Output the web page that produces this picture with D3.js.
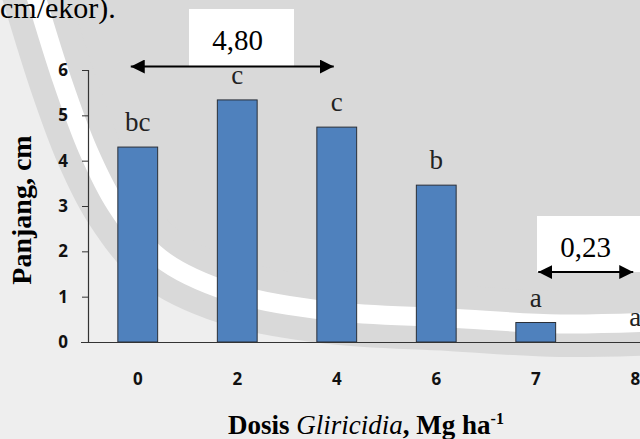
<!DOCTYPE html>
<html>
<head>
<meta charset="utf-8">
<script src="https://cdn.jsdelivr.net/npm/d3@7"></script>
<style>
  html, body { margin: 0; padding: 0; background: #eeeeee; }
  svg { display: block; }
</style>
</head>
<body>
<svg id="chart" width="640" height="439"></svg>
<script>
// Leaf length by Gliricidia dose
const doses = ["0", "2", "4", "6", "7", "8"];
const lengths = [4.30, 5.34, 4.74, 3.46, 0.43, 0.00];
const groupLetters = ["bc", "c", "c", "b", "a", "a"];
const yTicks = [0, 1, 2, 3, 4, 5, 6];
const rangeNotes = [
  { from: "0", to: "4", text: "4,80" },
  { from: "7", to: "8", text: "0,23" }
];
// centre line of the faint seal ring behind the plot
const sealRing = [[34, -10], [62, 80], [88, 150], [116, 205], [160, 258], [230, 292],
                  [330, 311], [450, 318], [560, 324], [680, 321]];

const svg = d3.select("#chart");
const W = 640, H = 439;
const plotLeft = 88, plotBottom = 342, plotTop = 70;

const serif = "Liberation Serif, Times New Roman, serif";
const sans = "Open Sans, Lato, sans-serif";

// ---- background seal ----
const bg = svg.append("g");
bg.append("rect").attr("width", W).attr("height", H).attr("fill", "#eeeeee");
const ringLine = d3.line().curve(d3.curveCatmullRom);
const ringPath = ringLine(sealRing);
bg.append("path")
  .attr("d", ringPath + `L${W + 60},-40L-40,-40Z`)
  .attr("fill", "#d9d9d9");
bg.append("path").attr("d", ringPath)
  .attr("fill", "none").attr("stroke", "#d9d9d9").attr("stroke-width", 66);
bg.append("path").attr("d", ringPath)
  .attr("fill", "none").attr("stroke", "#ffffff").attr("stroke-width", 19);

// ---- scales ----
const x = d3.scaleBand().domain(doses).range([plotLeft, plotLeft + 6 * 99.5])
  .paddingInner(0.6).paddingOuter(0.3);
const y = d3.scaleLinear().domain([0, 6]).range([plotBottom, plotTop]);
const cx = d => x(d) + x.bandwidth() / 2;

// ---- bars ----
svg.append("g").selectAll("rect")
  .data(doses)
  .join("rect")
  .attr("x", d => x(d))
  .attr("y", (d, i) => y(lengths[i]))
  .attr("width", x.bandwidth())
  .attr("height", (d, i) => plotBottom - y(lengths[i]))
  .attr("fill", "#4f81bd")
  .attr("stroke", "#2a2f38")
  .attr("stroke-width", 1);

// ---- axes ----
const yAxis = svg.append("g")
  .attr("transform", `translate(${plotLeft},0)`)
  .call(d3.axisLeft(y).tickValues(yTicks).tickSize(6).tickPadding(14).tickFormat(d3.format("d")));
const xAxis = svg.append("g")
  .attr("transform", `translate(0,${plotBottom})`)
  .call(d3.axisBottom(x).tickSize(0).tickPadding(31));
xAxis.select(".domain").attr("d", `M${plotLeft - 7},0.5H${W + 10}`);
[yAxis, xAxis].forEach(g => {
  g.attr("font-family", sans).attr("font-size", 17).attr("font-weight", 700);
  g.select(".domain").attr("stroke", "#333").attr("stroke-width", 1.2);
  g.selectAll(".tick line").attr("stroke", "#333");
  g.selectAll("text")
    .attr("fill", "#111")
    .style("font-family", sans)
    .style("font-weight", "700")
    .style("font-size", "17px");
});

// ---- significance letters ----
svg.append("g").selectAll("text")
  .data(doses)
  .join("text")
  .attr("x", d => cx(d))
  .attr("y", (d, i) => y(lengths[i]) - 16)
  .attr("text-anchor", "middle")
  .attr("font-family", serif)
  .attr("font-size", 27)
  .attr("fill", "#222")
  .text((d, i) => groupLetters[i]);

// ---- range notes with double arrows ----
const defs = svg.append("defs");
defs.append("marker")
  .attr("id", "head")
  .attr("viewBox", "0 0 14 14")
  .attr("refX", 14).attr("refY", 7)
  .attr("markerWidth", 14).attr("markerHeight", 14)
  .attr("markerUnits", "userSpaceOnUse")
  .attr("orient", "auto-start-reverse")
  .append("path").attr("d", "M0,0L14,7L0,14Z").attr("fill", "#000");

const noteLayout = [
  { x1: cx("0") - 7, x2: cx("4") - 3, ay: 66.5, box: [189, 9, 105, 58], tx: 237.5, ty: 50 },
  { x1: cx("7") + 2.5, x2: cx("8") - 2, ay: 272, box: [537, 216, 110, 56], tx: 585.5, ty: 257 }
];
rangeNotes.forEach((n, i) => {
  const L = noteLayout[i];
  const g = svg.append("g");
  g.append("rect")
    .attr("x", L.box[0]).attr("y", L.box[1])
    .attr("width", L.box[2]).attr("height", L.box[3])
    .attr("fill", "#fff");
  g.append("text")
    .attr("x", L.tx)
    .attr("y", L.ty)
    .attr("text-anchor", "middle")
    .attr("font-family", serif)
    .attr("font-size", 29)
    .attr("fill", "#000")
    .text(n.text);
  g.append("line")
    .attr("x1", L.x1).attr("x2", L.x2)
    .attr("y1", L.ay).attr("y2", L.ay)
    .attr("stroke", "#000").attr("stroke-width", 2)
    .attr("marker-start", "url(#head)")
    .attr("marker-end", "url(#head)");
});

// ---- titles ----
svg.append("text")
  .attr("transform", "translate(31,210) rotate(-90)")
  .attr("text-anchor", "middle")
  .attr("font-family", serif)
  .attr("font-weight", 700)
  .attr("font-size", 28)
  .attr("fill", "#000")
  .text("Panjang, cm");

const xt = svg.append("text")
  .attr("x", 366).attr("y", 434)
  .attr("text-anchor", "middle")
  .attr("font-family", serif)
  .attr("font-size", 27)
  .attr("fill", "#000");
xt.append("tspan").attr("font-weight", 700).text("Dosis ");
xt.append("tspan").attr("font-style", "italic").text("Gliricidia");
xt.append("tspan").attr("font-weight", 700).text(", Mg ha");
xt.append("tspan").attr("font-weight", 700).attr("font-size", 16)
  .attr("dy", -10).text("-1");

// end of the preceding sentence, running off the top edge
svg.append("text")
  .attr("x", 0).attr("y", 18)
  .attr("font-family", serif)
  .attr("font-size", 30)
  .attr("fill", "#000")
  .text("cm/ekor).");
</script>
</body>
</html>
